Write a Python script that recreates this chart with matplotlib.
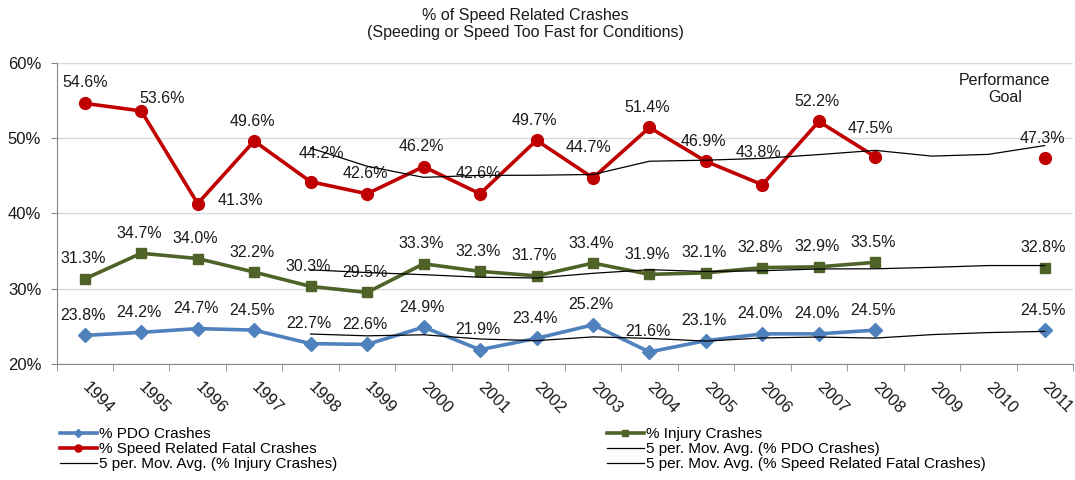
"""% of speed related crashes by year, with 5-period moving averages."""

import matplotlib

matplotlib.use("Agg")
import matplotlib.pyplot as plt
import numpy as np
from matplotlib.ticker import FuncFormatter, FixedLocator

YEARS = ["1994", "1995", "1996", "1997", "1998", "1999", "2000", "2001", "2002",
         "2003", "2004", "2005", "2006", "2007", "2008", "2009", "2010", "2011"]

PDO = [23.8, 24.2, 24.7, 24.5, 22.7, 22.6, 24.9, 21.9, 23.4,
       25.2, 21.6, 23.1, 24.0, 24.0, 24.5, None, None, 24.5]
INJURY = [31.3, 34.7, 34.0, 32.2, 30.3, 29.5, 33.3, 32.3, 31.7,
          33.4, 31.9, 32.1, 32.8, 32.9, 33.5, None, None, 32.8]
FATAL = [54.6, 53.6, 41.3, 49.6, 44.2, 42.6, 46.2, 42.6, 49.7,
         44.7, 51.4, 46.9, 43.8, 52.2, 47.5, None, None, 47.3]

# moving-average lines (start in 1998)
PDO_MA = [None, None, None, None, 23.98, 23.74, 23.88, 23.32, 23.10,
          23.60, 23.40, 23.04, 23.46, 23.58, 23.44, 23.90, 24.17, 24.33]
INJURY_MA = [None, None, None, None, 32.50, 32.14, 31.86, 31.52, 31.42,
             32.04, 32.52, 32.28, 32.38, 32.62, 32.64, 32.83, 33.07, 33.07]
FATAL_MA = [None, None, None, None, 48.66, 46.26, 44.78, 45.04, 45.06,
            45.16, 46.92, 47.06, 47.30, 47.80, 48.36, 47.60, 47.83, 49.00]

Y_TICKS = [20, 30, 40, 50, 60]

TITLE = "% of Speed Related Crashes\n(Speeding or Speed Too Fast for Conditions)"
GOAL_TEXT = "Performance\nGoal"

BLUE = "#4F81BD"
RED = "#C00000"
GREEN = "#4F6228"
TEXT = "#1a1a1a"
FONT = ["Liberation Sans", "DejaVu Sans"]

# label offsets in pixels (dx, dy); default sits just above the point
DEFAULT_OFFSET = (-2, 20)
FATAL_OFFSETS = {0: (0, 21), 1: (21, 12), 2: (43, 3), 4: (11, 28),
                 9: (-4, 30), 12: (-4, 32), 14: (-5, 28)}


def as_array(values):
    return np.array([np.nan if v is None else v for v in values], dtype=float)


def label_points(ax, x, values, offsets=None):
    offsets = offsets or {}
    for i, v in enumerate(values):
        if v is None:
            continue
        dx, dy = offsets.get(i, DEFAULT_OFFSET)
        ax.annotate(f"{v:.1f}%", (x[i], v), xytext=(dx, dy),
                    textcoords="offset pixels", ha="center", va="center",
                    fontsize=11.5, color=TEXT, family=FONT)


plt.rcParams["font.family"] = FONT

fig = plt.figure(figsize=(10.75, 4.8), dpi=100)
ax = fig.add_axes([56.5 / 1075, 1 - 364 / 480, (1073 - 56.5) / 1075, (364 - 62.7) / 480])

x = np.arange(len(YEARS))
line_kw = dict(linewidth=2.6, solid_joinstyle="round", zorder=3)
ma_kw = dict(color="black", linewidth=0.9, zorder=4)

pdo, = ax.plot(x, as_array(PDO), color=BLUE, marker="D", markersize=7.5, **line_kw)
inj, = ax.plot(x, as_array(INJURY), color=GREEN, marker="s", markersize=7, **line_kw)
fat, = ax.plot(x, as_array(FATAL), color=RED, marker="o", markersize=8.5, **line_kw)
ma_pdo, = ax.plot(x, as_array(PDO_MA), **ma_kw)
ma_inj, = ax.plot(x, as_array(INJURY_MA), **ma_kw)
ma_fat, = ax.plot(x, as_array(FATAL_MA), **ma_kw)

label_points(ax, x, PDO)
label_points(ax, x, INJURY)
label_points(ax, x, FATAL, FATAL_OFFSETS)

ax.annotate(GOAL_TEXT, (x[-1], 60), xytext=(-40, -26), textcoords="offset pixels",
            ha="center", va="center", fontsize=11.5, color=TEXT, linespacing=1.15)

ax.set_xlim(-0.5, len(YEARS) - 0.5)
ax.set_ylim(Y_TICKS[0], Y_TICKS[-1])
ax.set_yticks(Y_TICKS)
ax.yaxis.set_major_formatter(FuncFormatter(lambda v, _: f"{v:.0f}%"))
ax.set_xticks(x)
ax.set_xticklabels(YEARS)
ax.xaxis.set_minor_locator(FixedLocator(np.arange(-0.5, len(YEARS), 1.0)))
ax.tick_params(axis="x", which="major", length=0, pad=15, labelsize=12, labelcolor=TEXT)
ax.tick_params(axis="x", which="minor", length=5, color="#868686", direction="out")
ax.tick_params(axis="y", length=4, color="#868686", pad=7, labelsize=12, labelcolor=TEXT)
for lbl in ax.get_xticklabels():
    lbl.set_rotation(-45)
    lbl.set_ha("left")
    lbl.set_va("center")
    lbl.set_rotation_mode("anchor")

ax.grid(axis="y", color="#D9D9D9", linewidth=1)
ax.set_axisbelow(True)
for side in ("top", "right"):
    ax.spines[side].set_visible(False)
for side in ("left", "bottom"):
    ax.spines[side].set_color("#868686")

fig.text(525 / 1075, 1 - 24 / 480, TITLE, ha="center", va="center",
         fontsize=11.5, color=TEXT, linespacing=1.1)

leg_kw = dict(loc="upper left", frameon=False, fontsize=11, borderpad=0,
              borderaxespad=0, handlelength=2.4, handletextpad=0.15,
              labelspacing=0.08, markerscale=0.6, bbox_transform=fig.transFigure)
leg1 = fig.legend([pdo, fat, ma_inj],
                  ["% PDO Crashes", "% Speed Related Fatal Crashes",
                   "5 per. Mov. Avg. (% Injury Crashes)"],
                  bbox_to_anchor=(60 / 1075, 1 - 427 / 480), **leg_kw)
leg2 = fig.legend([inj, ma_pdo, ma_fat],
                  ["% Injury Crashes", "5 per. Mov. Avg. (% PDO Crashes)",
                   "5 per. Mov. Avg. (% Speed Related Fatal Crashes)"],
                  bbox_to_anchor=(607 / 1075, 1 - 427 / 480), **leg_kw)

fig.savefig("out.png", dpi=100)
